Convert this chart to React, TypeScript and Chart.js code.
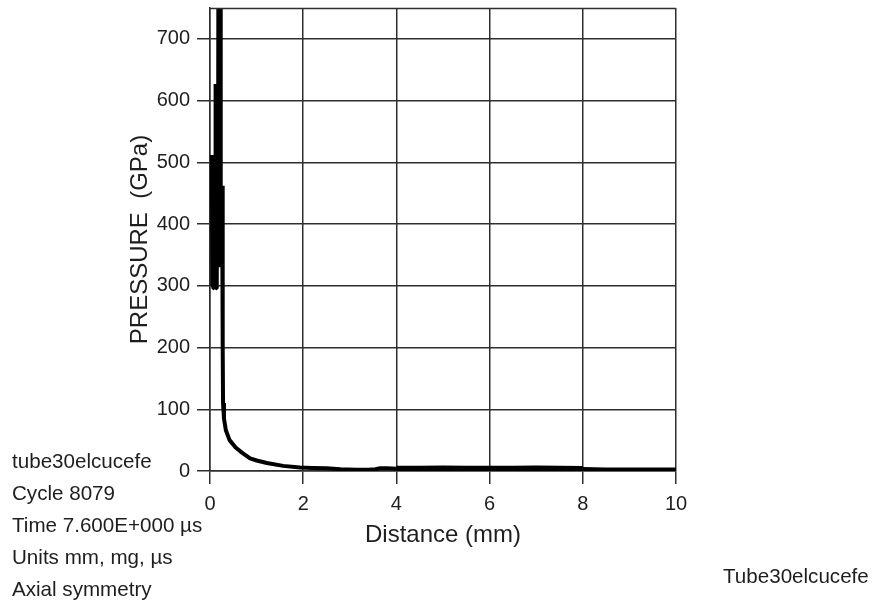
import React, { useEffect, useRef } from "react";
import { Chart, registerables } from "chart.js";

Chart.register(...registerables);

// Distance along the tube (mm)
const distance = [
  0.04, 0.05, 0.06, 0.07, 0.08, 0.09, 0.1, 0.11, 0.12, 0.13, 0.14, 0.15, 0.16, 0.17, 0.18, 0.19,
  0.2, 0.21, 0.22, 0.23, 0.24, 0.25, 0.26, 0.27, 0.275, 0.28, 0.3, 0.34, 0.42, 0.55, 0.7, 0.86, 1.0,
  1.22, 1.57, 1.93, 2.2, 2.5, 2.8, 3.15, 3.4, 3.55, 3.65, 3.8, 4.0,
  4.5, 5.0, 5.5, 6.0, 6.5, 7.0, 7.5, 8.0,
  8.5, 9.0, 9.5, 10.0,
];

// Pressure (GPa)
const pressure = [
  512, 300, 505, 296, 500, 300, 470, 310, 627, 296, 480, 310, 490, 330, 800, 330,
  800, 340, 790, 340, 462, 330, 462, 300, 200, 110, 85, 66, 50, 38, 29, 20.5, 17,
  13, 8.3, 5.6, 5, 4.3, 3, 2, 2, 2.8, 4.5, 4.5, 3.8,
  3.6, 3.9, 3.5, 3.8, 3.6, 3.9, 3.6, 3.2,
  2.6, 2.5, 2.5, 2.5,
];

const xTickValues = [0, 2, 4, 6, 8, 10];
const yTickValues = [0, 100, 200, 300, 400, 500, 600, 700];

const notes = [
  "tube30elcucefe",
  "Cycle 8079",
  "Time 7.600E+000 \u00b5s",
  "Units mm, mg, \u00b5s",
  "Axial symmetry",
];
const footerLabel = "Tube30elcucefe";

const FONT = "'Liberation Sans', Arial, sans-serif";
const GRID = "#2e2e2e";
const TEXT = "#1e1e1e";

const framePlugin = {
  id: "frameTop",
  afterDraw(chart: any) {
    const { ctx, chartArea } = chart;
    ctx.save();
    ctx.strokeStyle = GRID;
    ctx.lineWidth = 1.5;
    ctx.beginPath();
    ctx.moveTo(chartArea.left, Math.round(chartArea.top) + 0.5);
    ctx.lineTo(chartArea.right, Math.round(chartArea.top) + 0.5);
    ctx.stroke();
    ctx.restore();
  },
};

export default function App() {
  const ref = useRef<HTMLCanvasElement>(null);

  useEffect(() => {
    if (!ref.current) return;
    const data = distance.map((d, i) => ({ x: d, y: pressure[i] }));
    const chart = new Chart(ref.current, {
      type: "line",
      data: {
        datasets: [
          {
            data,
            borderColor: "#000000",
            borderWidth: 4,
            pointRadius: 0,
            tension: 0,
            fill: false,
            borderJoinStyle: "bevel",
            segment: {
              borderWidth: (ctx: any) =>
                ctx.p0.parsed.x >= 4 && ctx.p1.parsed.x <= 8 ? 6 : 4,
            },
          },
        ],
      },
      options: {
        animation: false,
        responsive: false,
        devicePixelRatio: 1,
        layout: { padding: { left: 122, top: 8, right: 196, bottom: 50 } },
        plugins: { legend: { display: false }, tooltip: { enabled: false } },
        scales: {
          x: {
            type: "linear",
            min: 0,
            max: 10,
            afterBuildTicks: (axis: any) => {
              axis.ticks = xTickValues.map((v) => ({ value: v }));
            },
            afterFit: (axis: any) => {
              axis.height = 83;
              axis.paddingLeft = 0;
              axis.paddingRight = 0;
            },
            grid: { color: GRID, lineWidth: 1.5, tickLength: 13, drawTicks: true },
            border: { color: GRID, width: 1.5 },
            ticks: {
              color: TEXT,
              font: { family: FONT, size: 20 },
              padding: 8,
              maxRotation: 0,
            },
            title: {
              display: true,
              text: "Distance (mm)",
              color: TEXT,
              font: { family: FONT, size: 24 },
            },
          },
          y: {
            type: "linear",
            min: 0,
            max: 750,
            afterBuildTicks: (axis: any) => {
              axis.ticks = yTickValues.map((v) => ({ value: v }));
            },
            afterFit: (axis: any) => {
              axis.width = 88;
              axis.paddingTop = 0;
              axis.paddingBottom = 0;
            },
            grid: { color: GRID, lineWidth: 1.5, tickLength: 13, drawTicks: true },
            border: { color: GRID, width: 1.5 },
            ticks: {
              color: TEXT,
              font: { family: FONT, size: 20 },
              padding: 7,
            },
            title: {
              display: true,
              text: "PRESSURE  (GPa)",
              color: TEXT,
              font: { family: FONT, size: 24 },
            },
          },
        },
      },
      plugins: [framePlugin],
    });
    return () => chart.destroy();
  }, []);

  return (
    <div
      style={{
        position: "fixed",
        left: 0,
        top: 0,
        width: 872,
        height: 604,
        background: "#ffffff",
        overflow: "hidden",
        fontFamily: FONT,
      }}
    >
      <canvas ref={ref} width={872} height={604} style={{ position: "absolute", left: 0, top: 0 }} />
      {notes.map((t, i) => (
        <div
          key={i}
          style={{
            position: "absolute",
            left: 12,
            top: 449 + i * 32,
            fontSize: 20.6,
            lineHeight: "24px",
            color: TEXT,
            whiteSpace: "pre",
          }}
        >
          {t}
        </div>
      ))}
      <div
        style={{
          position: "absolute",
          left: 723,
          top: 564,
          fontSize: 20.6,
          lineHeight: "24px",
          color: TEXT,
          whiteSpace: "pre",
        }}
      >
        {footerLabel}
      </div>
    </div>
  );
}
